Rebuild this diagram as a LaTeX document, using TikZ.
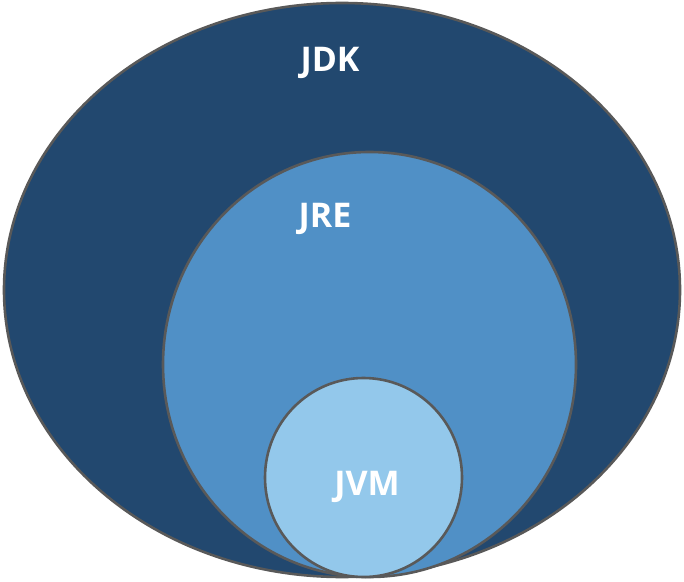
\documentclass[tikz,border=0pt]{standalone}
\usepackage{fontspec}
\setsansfont{Open Sans}
\usepackage{xcolor}
\usetikzlibrary{shapes.geometric}
\definecolor{jdkblue}{HTML}{22486F}
\definecolor{jreblue}{HTML}{5090C6}
\definecolor{jvmblue}{HTML}{93C8EB}
\definecolor{rimgray}{HTML}{595959}
\tikzset{
  ring/.style={draw=rimgray,ellipse,line width=2.6pt,inner sep=0pt},
  lab/.style={text=white,font=\sffamily\bfseries\fontsize{34}{36}\selectfont},
}
\begin{document}
\begin{tikzpicture}[x=1pt,y=1pt]
\useasboundingbox (0,0) rectangle (684,581);
\node[ring,fill=jdkblue,minimum width=676pt,minimum height=574pt] (jdk) at (342,291) {};
\node[ring,fill=jreblue,minimum width=413pt,minimum height=425pt] (jre) at (369.5,216.5) {};
\node[ring,fill=jvmblue,minimum width=197pt,minimum height=199pt] (jvm) at (363.5,103.5) {};
\node[lab] (jdklab) at (330,518) {JDK};
\node[lab] (jrelab) at (325,362) {JRE};
\node[lab] (jvmlab) at (367,94) {JVM};
\end{tikzpicture}
\end{document}
